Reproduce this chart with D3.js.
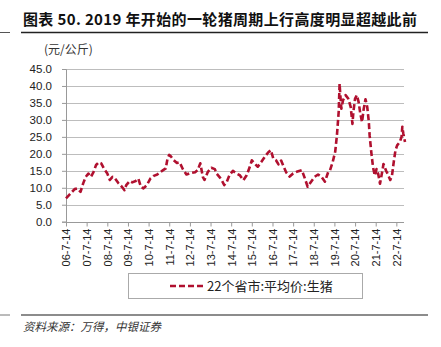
<!DOCTYPE html>
<html><head><meta charset="utf-8">
<script src="https://cdn.jsdelivr.net/npm/d3@7"></script>
<style>
html,body{margin:0;padding:0;background:#fff;}
svg{display:block;}
</style></head>
<body><svg id="c" width="441" height="347"></svg>
<script>
const titleText = "图表 50. 2019 年开始的一轮猪周期上行高度明显超越此前";
const unitText = "(元/公斤)";
const seriesName = "22个省市:平均价:生猪";
const sourceText = "资料来源：万得，中银证券";
const yTicks = [0, 5, 10, 15, 20, 25, 30, 35, 40, 45];
const xTickYears = [2006,2007,2008,2009,2010,2011,2012,2013,2014,2015,2016,2017,2018,2019,2020,2021,2022];

const dates = [
"2006-07-14","2006-09-14","2006-12-14","2007-01-28","2007-03-28","2007-05-14","2007-06-28","2007-08-14","2007-09-28","2007-11-14",
"2007-12-28","2008-02-14","2008-03-28","2008-05-14","2008-07-14","2008-08-28","2008-10-14","2008-11-28","2009-01-28","2009-03-28",
"2009-05-14","2009-06-14","2009-08-14","2009-09-28","2009-11-28","2010-01-14","2010-02-28","2010-04-14","2010-06-14","2010-08-14",
"2010-10-14","2010-12-14","2011-01-28","2011-03-28","2011-05-14","2011-06-14","2011-07-14","2011-08-14","2011-09-28","2011-11-28",
"2012-01-14","2012-03-14","2012-05-14","2012-07-14","2012-10-14","2012-11-28","2013-01-14","2013-02-28","2013-03-28","2013-05-28",
"2013-07-28","2013-09-28","2013-10-28","2013-12-28","2014-01-28","2014-03-14","2014-04-28","2014-06-14","2014-08-14","2014-10-14",
"2014-12-14","2015-02-14","2015-04-14","2015-06-14","2015-07-14","2015-08-28","2015-10-28","2015-12-28","2016-02-28","2016-04-28",
"2016-06-14","2016-07-28","2016-09-14","2016-10-28","2016-12-14","2017-01-28","2017-03-14","2017-05-14","2017-07-14","2017-09-14",
"2017-12-14","2018-01-28","2018-03-28","2018-05-28","2018-07-28","2018-09-28","2018-11-28","2019-01-28","2019-03-28","2019-04-28",
"2019-06-14","2019-07-28","2019-08-28","2019-09-28","2019-10-14","2019-10-28","2019-11-14","2019-12-14","2020-01-28","2020-03-14",
"2020-04-28","2020-05-28","2020-06-14","2020-07-14","2020-08-14","2020-09-14","2020-10-14","2020-11-14","2020-12-14","2021-01-14",
"2021-02-14","2021-03-14","2021-03-28","2021-04-28","2021-05-28","2021-06-28","2021-07-28","2021-08-28","2021-09-28","2021-11-14",
"2021-11-28","2022-01-14","2022-02-14","2022-03-28","2022-04-28","2022-05-28","2022-06-28","2022-07-28","2022-09-14","2022-10-14",
"2022-10-28","2022-11-14","2022-12-14"
];
const prices = [
6.9, 8.0, 9.6, 9.8, 8.8, 11.3, 13.2, 14.2, 13.2, 14.7,
16.7, 17.5, 17.2, 15.7, 14.2, 12.3, 13.2, 12.7, 11.3, 10.3,
9.3, 10.8, 12.0, 11.6, 12.0, 12.7, 10.3, 9.8, 10.8, 12.7,
13.5, 13.9, 14.5, 15.2, 15.7, 18.6, 19.7, 19.2, 18.2, 17.3,
17.5, 15.4, 13.9, 14.3, 14.6, 15.2, 17.2, 13.2, 12.3, 14.7,
15.9, 15.5, 14.2, 13.0, 12.2, 10.8, 11.8, 13.7, 15.0, 14.2,
13.7, 12.2, 13.7, 16.4, 18.1, 17.2, 16.2, 17.6, 19.1, 20.4,
21.1, 18.6, 18.1, 16.9, 18.0, 16.2, 14.5, 13.3, 14.2, 14.7,
15.2, 13.2, 10.3, 11.8, 13.2, 13.9, 13.2, 11.8, 14.7, 15.2,
17.6, 20.6, 25.5, 32.4, 40.7, 37.0, 33.3, 35.8, 37.3, 36.3,
33.8, 28.8, 32.4, 36.3, 37.3, 35.3, 31.9, 29.4, 33.3, 36.1,
33.8, 29.4, 25.5, 20.3, 16.0, 13.6, 15.5, 14.0, 11.2, 15.5,
17.0, 15.0, 14.0, 12.3, 13.6, 17.5, 21.0, 22.5, 23.5, 25.0,
28.0, 26.0, 23.5
];

const parse = d3.timeParse("%Y-%m-%d");
const data = dates.map((d, i) => ({date: parse(d), v: prices[i]}));
const lineColor = "#b0102f";
const svg = d3.select("#c");
const font = "'Liberation Sans', Arial, sans-serif";
const cjk = "'Noto Sans CJK SC', 'Liberation Sans', sans-serif";

svg.append("rect").attr("width", 441).attr("height", 347).attr("fill", "#fff");

// Title
svg.append("text").attr("x", 23).attr("y", 25)
  .attr("font-family", cjk).attr("font-weight", "bold").attr("font-size", 15)
  .attr("fill", "#111").attr("textLength", 394).attr("lengthAdjust", "spacing")
  .text(titleText);
svg.append("line").attr("x1", 21).attr("x2", 428).attr("y1", 32.5).attr("y2", 32.5)
  .attr("stroke", "#222").attr("stroke-width", 1.3);
svg.append("line").attr("x1", 0).attr("x2", 10).attr("y1", 32.5).attr("y2", 32.5)
  .attr("stroke", "#555").attr("stroke-width", 1);

// Unit
svg.append("text").attr("x", 44).attr("y", 54)
  .attr("font-family", cjk).attr("font-size", 12).attr("fill", "#333").text(unitText);

const x = d3.scaleTime().domain([parse("2006-07-14"), parse("2022-12-14")]).range([66, 405]);
const y = d3.scaleLinear().domain([0, 45]).range([221.7, 69]);
const plotRight = 404;

// gridlines
svg.append("g").selectAll("line").data(yTicks.filter(t => t > 0)).join("line")
  .attr("x1", 66).attr("x2", plotRight)
  .attr("y1", d => Math.round(y(d)) + 0.5).attr("y2", d => Math.round(y(d)) + 0.5)
  .attr("stroke", "#bdbdbd").attr("stroke-width", 1);

// y axis
const yAxis = d3.axisLeft(y).tickValues(yTicks).tickFormat(d3.format(".1f")).tickSize(4).tickPadding(10);
const gy = svg.append("g").attr("transform", "translate(66,0)").call(yAxis);
gy.select(".domain").attr("stroke", "#999");
gy.selectAll(".tick line").attr("stroke", "#999");
gy.selectAll(".tick text").attr("font-family", font).attr("font-size", 11.5).attr("fill", "#222");

// x axis
const xTicks = xTickYears.map(yr => parse(yr + "-07-14"));
const xAxis = d3.axisBottom(x).tickValues(xTicks).tickFormat(d3.timeFormat("%y-%-m-%-d")).tickSize(4).tickSizeOuter(0);
const gx = svg.append("g").attr("transform", "translate(0," + (Math.round(y(0)) + 0.5) + ")").call(xAxis);
gx.select(".domain").attr("stroke", "#999").attr("d", "M66,0H" + plotRight);
gx.selectAll(".tick line").attr("stroke", "#999");
gx.selectAll(".tick text")
  .attr("font-family", font).attr("font-size", 11).attr("fill", "#222")
  .attr("transform", "rotate(-90)")
  .attr("text-anchor", "end").attr("dy", "0.35em").attr("x", -6).attr("y", 0);

// series
svg.append("path").datum(data)
  .attr("fill", "none").attr("stroke", lineColor).attr("stroke-width", 2.6)
  .attr("stroke-dasharray", "6,3").attr("stroke-linejoin", "round")
  .attr("d", d3.line().x(d => x(d.date)).y(d => y(d.v)));

// legend
svg.append("rect").attr("x", 128.5).attr("y", 273.5).attr("width", 234).attr("height", 25)
  .attr("fill", "#fff").attr("stroke", "#aaa").attr("stroke-width", 1);
svg.append("line").attr("x1", 170).attr("x2", 204).attr("y1", 286).attr("y2", 286)
  .attr("stroke", lineColor).attr("stroke-width", 2.6).attr("stroke-dasharray", "6,3");
svg.append("text").attr("x", 207).attr("y", 291)
  .attr("font-family", cjk).attr("font-size", 13).attr("fill", "#222").text(seriesName);

// bottom
svg.append("line").attr("x1", 21).attr("x2", 428).attr("y1", 315).attr("y2", 315)
  .attr("stroke", "#666").attr("stroke-width", 1.3);
svg.append("line").attr("x1", 0).attr("x2", 10).attr("y1", 315).attr("y2", 315)
  .attr("stroke", "#777").attr("stroke-width", 1);
svg.append("text").attr("x", 23).attr("y", 331)
  .attr("font-family", cjk).attr("font-size", 11.5).attr("font-style", "italic").attr("fill", "#333")
  .text(sourceText);
</script></body></html>
